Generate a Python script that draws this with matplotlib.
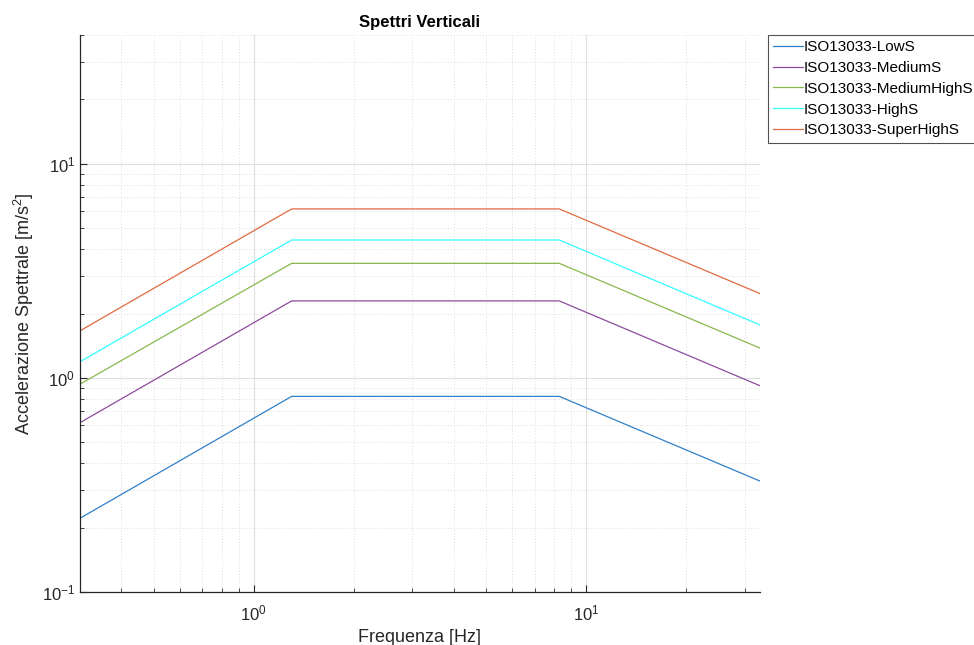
import matplotlib
matplotlib.use("Agg")
import matplotlib.pyplot as plt
from matplotlib.ticker import LogLocator, NullFormatter

plt.rcParams['font.family'] = ['Liberation Sans', 'DejaVu Sans']
plt.rcParams['mathtext.fontset'] = 'custom'
plt.rcParams['mathtext.rm'] = 'Liberation Sans'

freq = [0.3, 1.3, 8.3, 33.3]
series_names = ['ISO13033-LowS', 'ISO13033-MediumS', 'ISO13033-MediumHighS',
                'ISO13033-HighS', 'ISO13033-SuperHighS']
low_s = [0.221, 0.82, 0.82, 0.33]
medium_s = [0.618, 2.29, 2.29, 0.92]
medium_high_s = [0.935, 3.43, 3.43, 1.38]
high_s = [1.19, 4.41, 4.41, 1.77]
super_high_s = [1.66, 6.16, 6.16, 2.48]
colors = ['#2F80C8', '#8E4A9C', '#88B84C', '#33FFFF', '#E06A40']

fig = plt.figure(figsize=(9.74, 6.45), dpi=100)
ax = fig.add_axes([0.0821, 0.0822, 0.698, 0.8635])

for name, vals, c in zip(series_names,
                         [low_s, medium_s, medium_high_s, high_s, super_high_s],
                         colors):
    ax.plot(freq, vals, color=c, lw=0.9, label=name)

ax.set_xscale('log')
ax.set_yscale('log')
ax.set_xlim(0.3, 33.3)
ax.set_ylim(0.1, 40)

ax.xaxis.set_major_locator(LogLocator(base=10, numticks=10))
ax.xaxis.set_minor_locator(LogLocator(base=10, subs=range(2, 10), numticks=20))
ax.yaxis.set_minor_locator(LogLocator(base=10, subs=range(2, 10), numticks=20))
ax.xaxis.set_minor_formatter(NullFormatter())
ax.yaxis.set_minor_formatter(NullFormatter())

ax.grid(True, which='major', color='#e0e0e0', lw=0.8, ls='-')
ax.grid(True, which='minor', color='#dcdcdc', lw=0.7, ls=(0, (1, 2)))
ax.set_axisbelow(True)

for s in ['top', 'right']:
    ax.spines[s].set_visible(False)
for s in ['left', 'bottom']:
    ax.spines[s].set_color('#262626')
    ax.spines[s].set_linewidth(0.9)

ax.tick_params(which='both', direction='in', colors='#262626', labelsize=12,
               labelcolor='#262626')
ax.tick_params(which='major', length=5)
ax.tick_params(which='minor', length=3)
ax.tick_params(axis='x', pad=8)

ax.set_xlabel('Frequenza [Hz]', fontsize=13, color='#262626')
ax.set_ylabel('Accelerazione Spettrale [m/s$^2$]', fontsize=13, color='#262626')
ax.set_title('Spettri Verticali', fontsize=12, fontweight='bold', color='black')

leg = ax.legend(loc='upper left', bbox_to_anchor=(1.0115, 1.0), fontsize=11,
                frameon=True, fancybox=False, borderaxespad=0,
                handlelength=1.95, handletextpad=0.08, labelspacing=0.44,
                borderpad=0.35)
leg.get_frame().set_edgecolor('#262626')
leg.get_frame().set_linewidth(0.8)

fig.savefig('out.png', dpi=100)
